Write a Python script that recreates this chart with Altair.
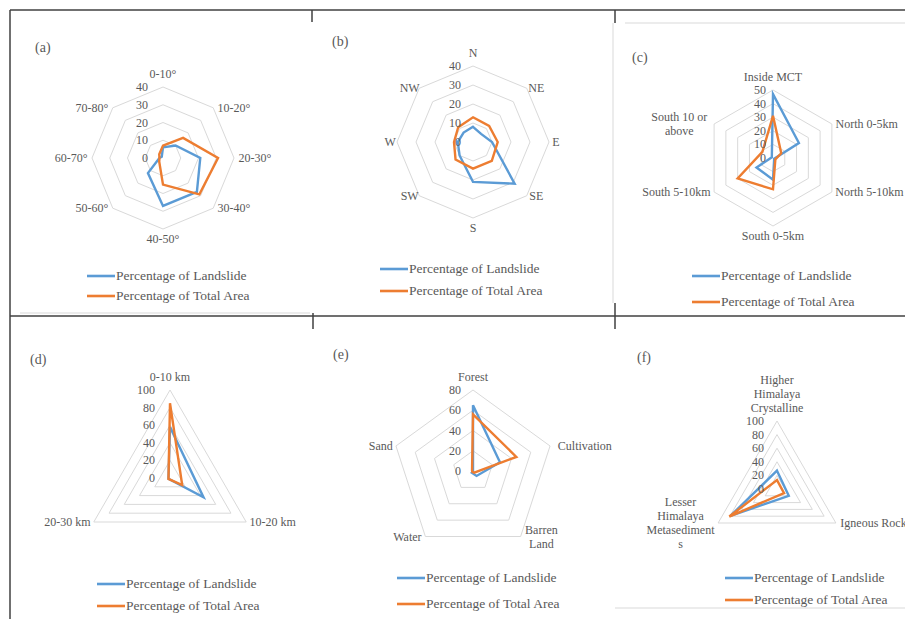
import altair as alt
import pandas as pd

BLUE = "#5B9BD5"
ORANGE = "#ED7D31"
GRID = "#D9D9D9"
TEXT = "#595959"
FONT = "Liberation Serif"
S_LAND = "Percentage of Landslide"
S_AREA = "Percentage of Total Area"

# ---- data ----
a_cats = ["0-10°", "10-20°", "20-30°", "30-40°", "40-50°", "50-60°", "60-70°", "70-80°"]
a_land = [6, 10, 21, 27, 27, 12, 2, 1]
a_area = [7, 16, 31, 29, 15, 3, 2, 3]
a_ticks = [0, 10, 20, 30, 40]

b_cats = ["N", "NE", "E", "SE", "S", "SW", "W", "NW"]
b_land = [8, 6, 10, 31, 21, 10, 8, 7]
b_area = [13, 12, 13, 14, 14, 13, 10, 11]
b_ticks = [0, 10, 20, 30, 40]

c_cats = ["Inside MCT", "North 0-5km", "North 5-10km", "South 0-5km", "South 5-10km", "South 10 or\nabove"]
c_land = [47, 22, 1, 16, 14, 1]
c_area = [31, 7, 2, 23, 30, 9]
c_ticks = [0, 10, 20, 30, 40, 50]

d_cats = ["0-10 km", "10-20 km", "20-30 km"]
d_land = [58, 44, 2]
d_area = [85, 16, 2]
d_ticks = [0, 20, 40, 60, 80, 100]

e_cats = ["Forest", "Cultivation", "Barren\nLand", "Water", "Sand"]
e_land = [65, 28, 6, 2, 0]
e_area = [56, 45, 2, 1, 1]
e_ticks = [0, 20, 40, 60, 80]

f_cats = ["Higher\nHimalaya\nCrystalline", "Igneous Rock", "Lesser\nHimalaya\nMetasediment\ns"]
f_land = [27, 20, 79]
f_area = [13, 12, 81]
f_ticks = [0, 20, 40, 60, 80, 100]

panels = {
    "a": (a_cats, a_land, a_area, a_ticks),
    "b": (b_cats, b_land, b_area, b_ticks),
    "c": (c_cats, c_land, c_area, c_ticks),
    "d": (d_cats, d_land, d_area, d_ticks),
    "e": (e_cats, e_land, e_area, e_ticks),
    "f": (f_cats, f_land, f_area, f_ticks),
}

# ---- layout (pixels) ----
layout = {
    "a": dict(cx=163, cy=158, R=71, gap=15, lx=87, ly1=276, ly2=296, tx=35, ty=48),
    "b": dict(cx=473, cy=142, R=76, gap=12, lx=380, ly1=269, ly2=291, tx=332, ty=42),
    "c": dict(cx=773, cy=158, R=68, gap=7, lx=692, ly1=276, ly2=302, tx=632, ty=58),
    "d": dict(cx=170, cy=478, R=88, gap=15, lx=97, ly1=584, ly2=606, tx=30, ty=360),
    "e": dict(cx=473, cy=471, R=81, gap=12, lx=397, ly1=578, ly2=604, tx=333, ty=355),
    "f": dict(cx=777, cy=489, R=68, gap=13, lx=725, ly1=578, ly2=600, tx=637, ty=358),
}

series_rows, grid_rows, tick_rows, cat_rows, leg_rows, letter_rows = [], [], [], [], [], []
for p, (cats, land, area, ticks) in panels.items():
    L = layout[p]
    n = len(cats)
    base = dict(panel=p, n=n, vmax=ticks[-1], cx=L["cx"], cy=L["cy"], R=L["R"])
    for i in range(n):
        series_rows.append({**base, "idx": i, "value": land[i], "series": S_LAND, "key": p + "L"})
        series_rows.append({**base, "idx": i, "value": area[i], "series": S_AREA, "key": p + "A"})
        lines = cats[i].split("\n")
        cat_rows.append({**base, "idx": i, "label": cats[i], "nl": len(lines),
                         "w": max(len(s) for s in lines)})
    for t in ticks[1:]:
        for i in range(n):
            grid_rows.append({**base, "idx": i, "value": t, "ring": f"{p}{t}"})
    for t in ticks:
        tick_rows.append({**base, "value": t, "label": str(t), "gap": L["gap"]})
    for s, ly in ((S_LAND, L["ly1"]), (S_AREA, L["ly2"])):
        leg_rows.append({"panel": p, "series": s, "lx": L["lx"], "lx2": L["lx"] + 28,
                         "ltx": L["lx"] + 29, "ly": ly})
    letter_rows.append({"label": f"({p})", "tx": L["tx"], "ty": L["ty"]})

series_df = pd.DataFrame(series_rows)
grid_df = pd.DataFrame(grid_rows)
tick_df = pd.DataFrame(tick_rows)
cat_df = pd.DataFrame(cat_rows)
leg_df = pd.DataFrame(leg_rows)
letter_df = pd.DataFrame(letter_rows)

# figure frame lines
frame_df = pd.DataFrame([
    dict(x=10, x2=905, y=10, y2=10, c="dark"),
    dict(x=10, x2=10, y=10, y2=619, c="dark"),
    dict(x=10, x2=905, y=316, y2=316, c="dark"),
    dict(x=312, x2=312, y=10, y2=22, c="dark"),
    dict(x=615, x2=615, y=10, y2=23, c="dark"),
    dict(x=313, x2=313, y=313, y2=329, c="dark"),
    dict(x=615, x2=615, y=303, y2=329, c="dark"),
    dict(x=20, x2=310, y=313, y2=313, c="light"),
    dict(x=625, x2=905, y=23, y2=23, c="light"),
    dict(x=613, x2=613, y=23, y2=303, c="light"),
    dict(x=615, x2=905, y=608, y2=608, c="light"),
])

xs = alt.Scale(domain=[0, 905], nice=False, zero=False)
ys = alt.Scale(domain=[0, 619], nice=False, zero=False, reverse=True)

ANG = "2*PI*datum.idx/datum.n"
PX = f"datum.cx + datum.value/datum.vmax*datum.R*sin({ANG})"
PY = f"datum.cy - datum.value/datum.vmax*datum.R*cos({ANG})"

color_scale = alt.Scale(domain=[S_LAND, S_AREA], range=[BLUE, ORANGE])
LH = 14

grid = alt.Chart(grid_df).transform_calculate(px=PX, py=PY).mark_line(
    interpolate="linear-closed", color=GRID, strokeWidth=1
).encode(
    x=alt.X("px:Q", scale=xs, axis=None),
    y=alt.Y("py:Q", scale=ys, axis=None),
    detail="ring:N",
    order="idx:Q",
)

lines = alt.Chart(series_df).transform_calculate(px=PX, py=PY).mark_line(
    interpolate="linear-closed", strokeWidth=2.4
).encode(
    x=alt.X("px:Q", scale=xs, axis=None),
    y=alt.Y("py:Q", scale=ys, axis=None),
    color=alt.Color("series:N", scale=color_scale, legend=None),
    detail="key:N",
    order="idx:Q",
)

ticks_layer = alt.Chart(tick_df).transform_calculate(
    px="datum.cx - datum.gap",
    py="datum.cy - datum.value/datum.vmax*datum.R",
).mark_text(align="right", baseline="middle", font=FONT, fontSize=12, color=TEXT).encode(
    x=alt.X("px:Q", scale=xs, axis=None),
    y=alt.Y("py:Q", scale=ys, axis=None),
    text="label:N",
)

cat_layer = alt.Chart(cat_df).transform_calculate(
    s=f"sin({ANG})",
    c=f"cos({ANG})",
).transform_calculate(
    side="abs(datum.s) < 0.01 ? 0 : (datum.s > 0 ? 1 : -1)",
).transform_calculate(
    px="datum.cx + datum.R*datum.s + datum.side*(4 + datum.w*2.8)",
    pc="datum.side != 0 ? datum.cy - datum.R*datum.c : "
       f"(datum.c > 0 ? datum.cy - datum.R - 6 - datum.nl*{LH/2} : datum.cy + datum.R + 3 + datum.nl*{LH/2})",
).transform_calculate(
    py=f"datum.pc - (datum.nl - 1)*{LH/2}",
).mark_text(align="center", baseline="middle", font=FONT, fontSize=12, color=TEXT,
            lineBreak="\n", lineHeight=LH).encode(
    x=alt.X("px:Q", scale=xs, axis=None),
    y=alt.Y("py:Q", scale=ys, axis=None),
    text="label:N",
)

leg_lines = alt.Chart(leg_df).mark_rule(strokeWidth=2.6).encode(
    x=alt.X("lx:Q", scale=xs, axis=None),
    x2="lx2:Q",
    y=alt.Y("ly:Q", scale=ys, axis=None),
    color=alt.Color("series:N", scale=color_scale, legend=None),
)

leg_text = alt.Chart(leg_df).mark_text(
    align="left", baseline="middle", font=FONT, fontSize=13.5, color=TEXT
).encode(
    x=alt.X("ltx:Q", scale=xs, axis=None),
    y=alt.Y("ly:Q", scale=ys, axis=None),
    text="series:N",
)

letters = alt.Chart(letter_df).mark_text(
    align="left", baseline="middle", font=FONT, fontSize=14, color=TEXT
).encode(
    x=alt.X("tx:Q", scale=xs, axis=None),
    y=alt.Y("ty:Q", scale=ys, axis=None),
    text="label:N",
)

frame = alt.Chart(frame_df).mark_rule(strokeWidth=1.5).encode(
    x=alt.X("x:Q", scale=xs, axis=None),
    x2="x2:Q",
    y=alt.Y("y:Q", scale=ys, axis=None),
    y2="y2:Q",
    color=alt.Color("c:N", scale=alt.Scale(domain=["dark", "light"], range=["#404040", "#E6E6E6"]),
                    legend=None),
)

chart = alt.layer(
    frame, grid, lines, ticks_layer, cat_layer, leg_lines, leg_text, letters
).resolve_scale(color="independent").properties(
    width=905, height=619, padding=0, autosize=alt.AutoSizeParams(type="none"),
    background="white",
).configure_view(stroke=None)

chart.save("out.html", embed_options={"renderer": "svg", "actions": False})
